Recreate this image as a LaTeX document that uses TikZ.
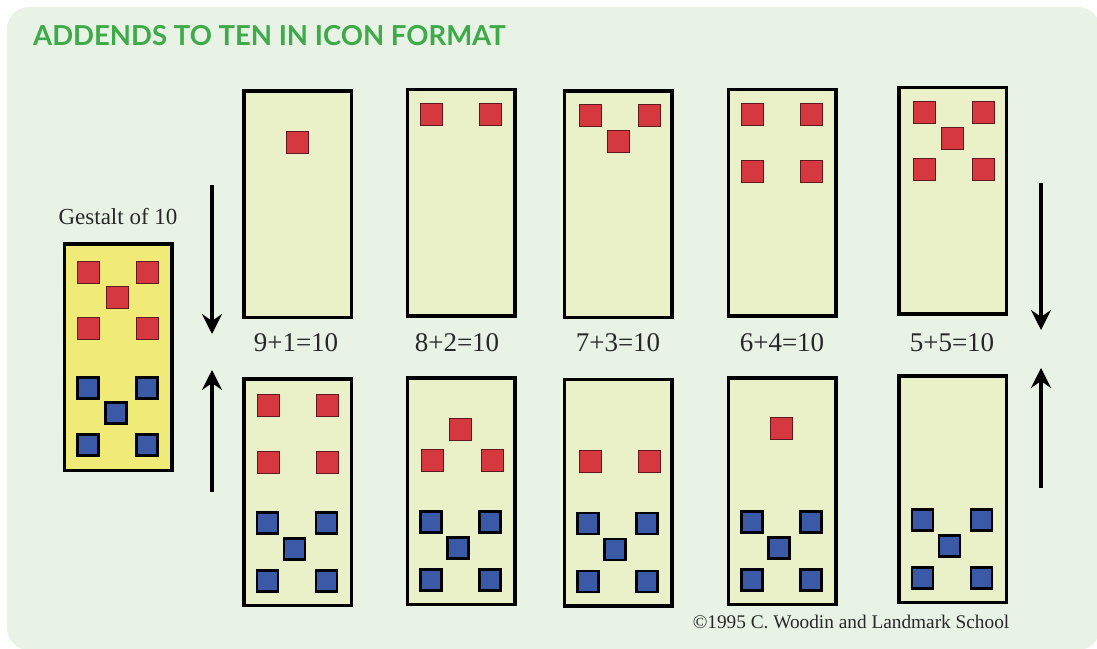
\documentclass[tikz,border=0pt]{standalone}
\usepackage{fontspec}
\setmainfont{Liberation Serif}
\newfontfamily\headfont{Lato}
\usetikzlibrary{arrows.meta,calc}
\definecolor{bggreen}{RGB}{232,243,230}
\definecolor{cardfill}{RGB}{234,241,200}
\definecolor{gestaltfill}{RGB}{240,235,118}
\definecolor{sqred}{RGB}{214,56,64}
\definecolor{sqblue}{RGB}{58,90,168}
\definecolor{headgreen}{RGB}{62,170,74}
\definecolor{inkgray}{RGB}{40,40,40}
\tikzset{
  card/.style={draw=black, line width=3.5pt, fill=cardfill, minimum width=107.5pt, minimum height=226.5pt, inner sep=0pt},
  redsq/.style={draw=black!55!sqred, line width=1pt, fill=sqred, minimum size=22pt, inner sep=0pt},
  bluesq/.style={draw=black, line width=2.2pt, fill=sqblue, minimum size=21pt, inner sep=0pt},
  sumlabel/.style={font=\fontsize{27}{30}\selectfont, text=inkgray},
  flow/.style={line width=4pt, -{Stealth[length=20pt, width=20pt, inset=7pt]}}
}
\begin{document}
\begin{tikzpicture}[x=1pt, y=-1pt]
\useasboundingbox (0,0) rectangle (1097,648);
\fill[bggreen, rounded corners=22pt] (7,7) rectangle (1100,650);
\node[anchor=base west, text=headgreen, font=\headfont\bfseries\fontsize{27.5}{30}\selectfont, inner sep=0pt] (title) at (33,45) {ADDENDS TO TEN IN ICON FORMAT};

% gestalt card
\node[font=\fontsize{23}{26}\selectfont, text=inkgray] (glabel) at (118,217) {Gestalt of 10};
\node[card, fill=gestaltfill] (g) at (118,357) {};

% top row
\node[card] (t1) at (297.5,204) {};
\node[card] (t2) at (461,202.5) {};
\node[card] (t3) at (618,204) {};
\node[card] (t4) at (782,202.5) {};
\node[card] (t5) at (952.5,200.5) {};
\node[sumlabel] (s1) at (296,343) {9+1=10};
\node[sumlabel] (s2) at (457,343) {8+2=10};
\node[sumlabel] (s3) at (618,343) {7+3=10};
\node[sumlabel] (s4) at (782,343) {6+4=10};
\node[sumlabel] (s5) at (952,343) {5+5=10};

% bottom row
\node[card] (b1) at (297.5,492) {};
\node[card] (b2) at (461,491) {};
\node[card] (b3) at (618,492.5) {};
\node[card] (b4) at (782,491) {};
\node[card] (b5) at (952.5,489) {};

% squares
\foreach \s/\dx/\dy in {a/-29.5/30, b/29.5/30, c/-1/55, d/-29.5/86, e/29.5/86}
  \node[redsq] (g\s) at ($(g.north)+(\dx,\dy)$) {};
\foreach \s/\dx/\dy in {f/-30/146, g/29/146, h/-2/171, i/-30/203, j/29/203}
  \node[bluesq] (g\s) at ($(g.north)+(\dx,\dy)$) {};
\node[redsq] (t1c) at ($(t1.north)+(0,53)$) {};
\foreach \s/\dx/\dy in {a/-29.5/27, b/29.5/27}
  \node[redsq] (t2\s) at ($(t2.north)+(\dx,\dy)$) {};
\foreach \s/\dx/\dy in {a/-28/26, b/31/26, c/0/52}
  \node[redsq] (t3\s) at ($(t3.north)+(\dx,\dy)$) {};
\foreach \s/\dx/\dy in {a/-29.5/27, b/29.5/27, d/-29.5/84, e/29.5/84}
  \node[redsq] (t4\s) at ($(t4.north)+(\dx,\dy)$) {};
\foreach \s/\dx/\dy in {a/-28/27, b/31/27, c/0/53, d/-28/84, e/31/84}
  \node[redsq] (t5\s) at ($(t5.north)+(\dx,\dy)$) {};
\foreach \s/\dx/\dy in {a/-29/28, b/30/28, d/-29/85, e/30/85}
  \node[redsq] (b1\s) at ($(b1.north)+(\dx,\dy)$) {};
\foreach \s/\dx/\dy in {c/-1/53, d/-29/84, e/31/84}
  \node[redsq] (b2\s) at ($(b2.north)+(\dx,\dy)$) {};
\foreach \s/\dx/\dy in {d/-28/84, e/31/84}
  \node[redsq] (b3\s) at ($(b3.north)+(\dx,\dy)$) {};
\node[redsq] (b4c) at ($(b4.north)+(-1,52)$) {};
\foreach \n in {1,...,5}
  \foreach \s/\dx/\dy in {f/-30/146, g/29/146, h/-3/172, i/-30/204, j/29/204}
    \node[bluesq] (b\n\s) at ($(b\n.north)+(\dx,\dy)$) {};

% arrows
\coordinate (ldownA) at (212,185);
\coordinate (ldownB) at (212,334);
\coordinate (lupA) at (212,492);
\coordinate (lupB) at (212,370);
\coordinate (rdownA) at (1041,183);
\coordinate (rdownB) at (1041,330);
\coordinate (rupA) at (1041,488);
\coordinate (rupB) at (1041,368);
\draw[flow] (ldownA) -- (ldownB);
\draw[flow] (lupA) -- (lupB);
\draw[flow] (rdownA) -- (rdownB);
\draw[flow] (rupA) -- (rupB);

\node[font=\fontsize{19.3}{22}\selectfont, text=inkgray] (credit) at (851,622) {©1995 C. Woodin and Landmark School};
\end{tikzpicture}
\end{document}
